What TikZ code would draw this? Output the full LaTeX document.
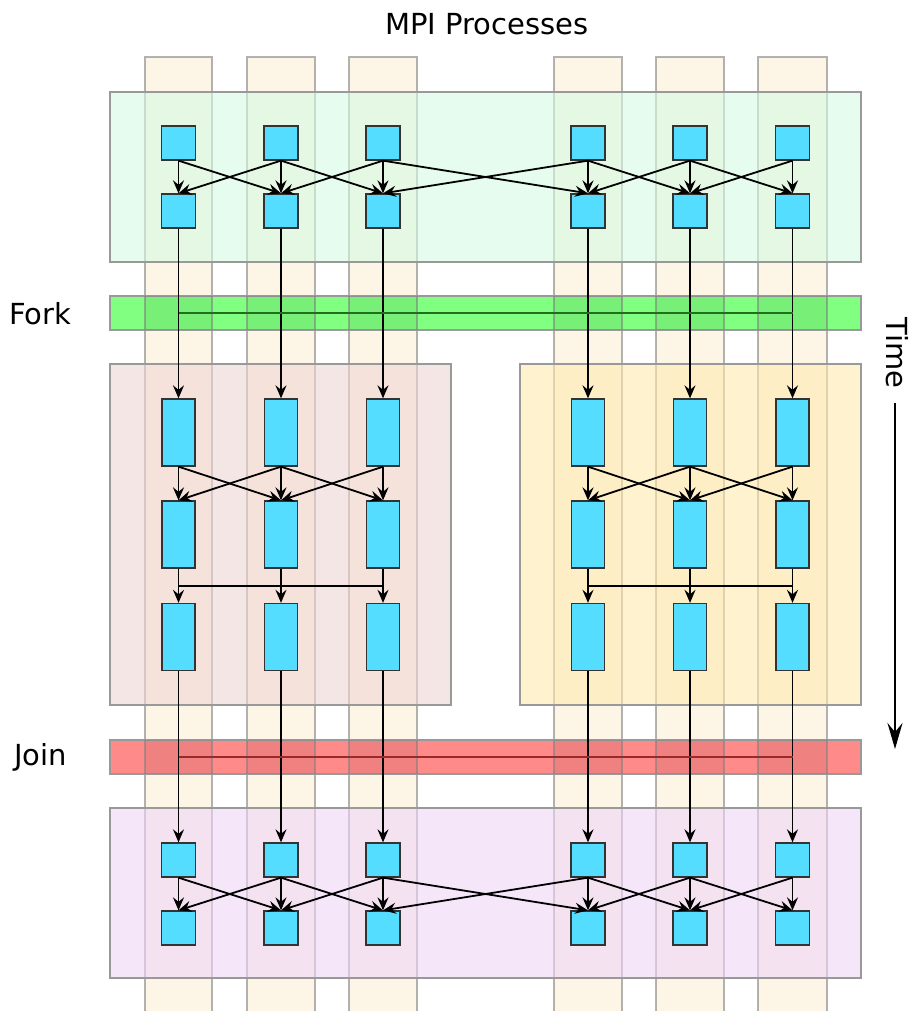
\documentclass[tikz,border=0pt]{standalone}
\usepackage{fontspec}
\setmainfont{DejaVu Sans}
\usetikzlibrary{arrows.meta}
\definecolor{stripfill}{HTML}{FDF6E6}
\definecolor{topblk}{HTML}{D5FAE3}
\definecolor{lmblk}{HTML}{EED5D5}
\definecolor{rmblk}{HTML}{FFE9AF}
\definecolor{botblk}{HTML}{EED5F7}
\definecolor{forkc}{HTML}{80FF80}
\definecolor{joinc}{HTML}{FF8A8A}
\definecolor{taskc}{HTML}{55DDFF}
\definecolor{frame}{HTML}{999999}
\definecolor{forkln}{HTML}{1F6F1F}
\definecolor{joinln}{HTML}{9A2A2A}
\begin{document}
\begin{tikzpicture}[x=1pt,y=-1pt,
  blk/.style={draw=frame,line width=1.5pt,fill opacity=0.6},
  stripbox/.style={draw=gray,draw opacity=0.6,line width=1.3pt,fill=stripfill},
  bar/.style={draw=frame,line width=1.5pt,minimum width=751pt,minimum height=34pt,inner sep=0pt},
  sq/.style={draw=black!80,line width=1.3pt,fill=taskc,minimum width=34pt,minimum height=34pt,inner sep=0pt},
  tall/.style={draw=black!80,line width=1.3pt,fill=taskc,minimum width=33pt,minimum height=67pt,inner sep=0pt},
  arr/.style={line width=1.8pt,-{Stealth[length=13pt,width=11pt,inset=4.5pt]}},
  ln/.style={line width=1.8pt},
  lbl/.style={font=\fontsize{29}{34}\selectfont,inner sep=0pt}
]
\useasboundingbox (0,0) rectangle (910,1011);
\clip (0,0) rectangle (910,1011);

% process strips
\foreach \a/\b in {145/212,247/315,349/417,554/622,656/724,758/827}
  \draw[stripbox] (\a,57) rectangle (\b,1030);

% blocks (semi-transparent, over the strips)
\draw[blk,fill=topblk] (110,92) rectangle (861,262);
\draw[blk,fill=lmblk] (110,364) rectangle (451,705);
\draw[blk,fill=rmblk] (520,364) rectangle (861,705);
\draw[blk,fill=botblk] (110,808) rectangle (861,978);

% fork / join bars
\node[bar,fill=forkc] (fork) at (485.5,313) {};
\node[bar,fill=joinc] (join) at (485.5,757) {};
\foreach \a/\b in {145/212,247/315,349/417,554/622,656/724,758/827}{
  \fill[black,opacity=0.06] (\a,296) rectangle (\b,330);
  \fill[black,opacity=0.06] (\a,740) rectangle (\b,774);
  \draw[gray,opacity=0.6,line width=1.3pt] (\a,296) -- (\a,330) (\b,296) -- (\b,330);
  \draw[gray,opacity=0.6,line width=1.3pt] (\a,740) -- (\a,774) (\b,740) -- (\b,774);
}

% task nodes
\foreach \i/\x in {1/178.5,2/281,3/383,4/588,5/690,6/792.5}{
  \node[sq] (ta\i) at (\x,143) {};
  \node[sq] (tb\i) at (\x,211) {};
  \node[tall] (ma\i) at (\x,432.5) {};
  \node[tall] (mb\i) at (\x,534.5) {};
  \node[tall] (mc\i) at (\x,637) {};
  \node[sq] (ba\i) at (\x,860) {};
  \node[sq] (bb\i) at (\x,928) {};
}

% exchanges
\foreach \i in {1,...,6}{
  \draw[arr] (ta\i.south) -- (tb\i.north);
  \draw[arr] (ba\i.south) -- (bb\i.north);
  \draw[arr] (tb\i.south) -- (ma\i.north);
  \draw[arr] (ma\i.south) -- (mb\i.north);
  \draw[arr] (mb\i.south) -- (mc\i.north);
  \draw[arr] (mc\i.south) -- (ba\i.north);
}
\foreach \i/\j in {1/2,2/3,3/4,4/5,5/6}{
  \draw[arr] (ta\i.south) -- (tb\j.north);
  \draw[arr] (ta\j.south) -- (tb\i.north);
  \draw[arr] (ba\i.south) -- (bb\j.north);
  \draw[arr] (ba\j.south) -- (bb\i.north);
}
\foreach \i/\j in {1/2,2/3,4/5,5/6}{
  \draw[arr] (ma\i.south) -- (mb\j.north);
  \draw[arr] (ma\j.south) -- (mb\i.north);
}

% collective lines
\coordinate (hl) at (0,586);
\draw[ln] (hl -| mb1) -- (hl -| mb3);
\draw[ln] (hl -| mb4) -- (hl -| mb6);
\draw[ln,draw=forkln] (fork.center -| tb1) -- (fork.center -| tb6);
\draw[ln,draw=joinln] (join.center -| mc1) -- (join.center -| mc6);

% labels
\node[lbl,anchor=base] (title) at (487,34.5) {MPI Processes};
\node[lbl,anchor=base west] (forklbl) at (9,324) {Fork};
\node[lbl,anchor=base west] (joinlbl) at (14,765) {Join};
\node[lbl,anchor=base west,rotate=-90] (timelbl) at (886,317) {Time};
\coordinate (tstart) at (895,403);
\coordinate (tend) at (895,749);
\draw[line width=2pt,-{Stealth[length=26pt,width=15pt,inset=9pt]}] (tstart) -- (tend);
\end{tikzpicture}
\end{document}
